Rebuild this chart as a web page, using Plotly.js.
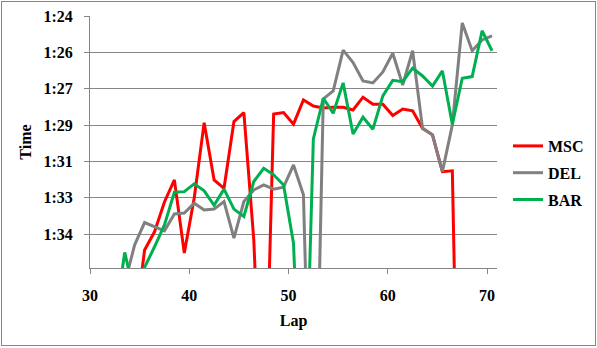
<!DOCTYPE html>
<html>
<head>
<meta charset="utf-8">
<script src="https://cdn.plot.ly/plotly-3.0.1.min.js"></script>
<style>
  html, body { margin: 0; padding: 0; background: #fff; }
  #wrap { position: relative; width: 597px; height: 348px; }
  #chart { width: 597px; height: 348px; }
  #frame { position: absolute; left: 1px; top: 1px; width: 593px; height: 343px;
           border: 1px solid #868686; pointer-events: none; }
</style>
</head>
<body>
<div id="wrap"><div id="chart"></div><div id="frame"></div></div>
<script>
// Lap positions (x) and lap times in seconds (y)
const laps = [32.5, 33.5, 34.5, 35.5, 36.5, 37.5, 38.5, 39.5, 40.5, 41.5, 42.5,
  43.5, 44.5, 45.5, 46.5, 47.5, 48.5, 49.5, 50.5, 51.5, 52.5, 53.5, 54.5, 55.5,
  56.5, 57.5, 58.5, 59.5, 60.5, 61.5, 62.5, 63.5, 64.5, 65.5, 66.5, 67.5, 68.5,
  69.5, 70.5];

const msc = [null, null, 98.8, 95.12, 94.26, 92.84, 91.79, 95.27, 92.65, 89.07, 91.79,
  92.19, 89.02, 88.59, 94.64, 106, 88.66, 88.59, 89.14, 87.99, 88.28, 88.37, 88.34, 88.34,
  88.47, 87.86, 88.19, 88.19, 88.73, 88.42, 88.51, 89.34, 89.65, 91.40, 91.36, 115, null,
  null, null];

const del = [null, 96.7, 94.88, 93.82, 94.02, 94.21, 93.41, 93.37, 92.90, 93.22, 93.18,
  92.82, 94.56, 92.82, 92.27, 92.03, 92.23, 92.14, 91.08, 92.50, 110, 87.94, 87.56, 85.62,
  86.21, 87.09, 87.18, 86.66, 85.77, 87.28, 85.65, 89.34, 89.65, 91.40, 89.18, 84.33, 85.65,
  85.14, 84.95];

const bar = [98.5, 95.24, 97.3, 95.95, 94.97, 93.93, 92.38, 92.35, 91.98, 92.31, 93.00,
  92.23, 93.18, 93.53, 91.87, 91.24, 91.55, 92.03, 94.80, 106.5, 89.84, 87.91, 88.62, 87.18,
  89.61, 88.81, 89.38, 87.80, 87.06, 87.12, 86.48, 86.85, 87.33, 86.61, 89.15, 86.96, 86.88,
  84.70, 85.65];

const seriesNames = ['MSC', 'DEL', 'BAR'];
const seriesColors = ['#FF0000', '#808080', '#00B050'];

const yTickVals = [84, 85.728, 87.456, 89.184, 90.912, 92.64, 94.368];
const yTickText = ['1:24', '1:26', '1:27', '1:29', '1:31', '1:33', '1:34'];
const xTickVals = [30, 40, 50, 60, 70];
const xTickText = ['30', '40', '50', '60', '70'];

const font = { family: 'Liberation Serif, Times New Roman, serif', size: 16, color: '#000', weight: 'bold' };

const data = [msc, del, bar].map((ys, i) => ({
  type: 'scatter', mode: 'lines', x: laps, y: ys,
  name: seriesNames[i], legendgroup: seriesNames[i],
  line: { color: seriesColors[i], width: 3 },
  connectgaps: false, hoverinfo: 'skip'
}));

const layout = {
  width: 597, height: 348,
  margin: { l: 90, r: 100, t: 16, b: 80, autoexpand: false },
  paper_bgcolor: '#fff', plot_bgcolor: '#fff',
  font: font,
  showlegend: true,
  legend: {
    x: 1.027, xanchor: 'left', y: 0.377, yanchor: 'middle',
    font: font, bgcolor: 'rgba(0,0,0,0)', borderwidth: 0,
    tracegroupgap: 3
  },
  xaxis: {
    range: [30, 71], tickmode: 'array', tickvals: xTickVals, ticktext: xTickText,
    showgrid: false, zeroline: false, automargin: false,
    showline: true, linecolor: '#868686', linewidth: 1,
    ticks: 'outside', ticklen: 5, tickcolor: '#868686',
    tickfont: font, ticklabelstandoff: 8,
    title: { text: 'Lap', font: font, standoff: 11 }
  },
  yaxis: {
    range: [95.98, 84], tickmode: 'array', tickvals: yTickVals, ticktext: yTickText,
    showgrid: true, gridcolor: '#868686', gridwidth: 1, zeroline: false, automargin: false,
    showline: true, linecolor: '#868686', linewidth: 1,
    ticks: 'outside', ticklen: 5, tickcolor: '#868686',
    tickfont: font, ticklabelstandoff: 8,
    title: { text: 'Time', font: font, standoff: 7 }
  }
};

Plotly.newPlot('chart', data, layout, { staticPlot: true });
</script>
</body>
</html>
